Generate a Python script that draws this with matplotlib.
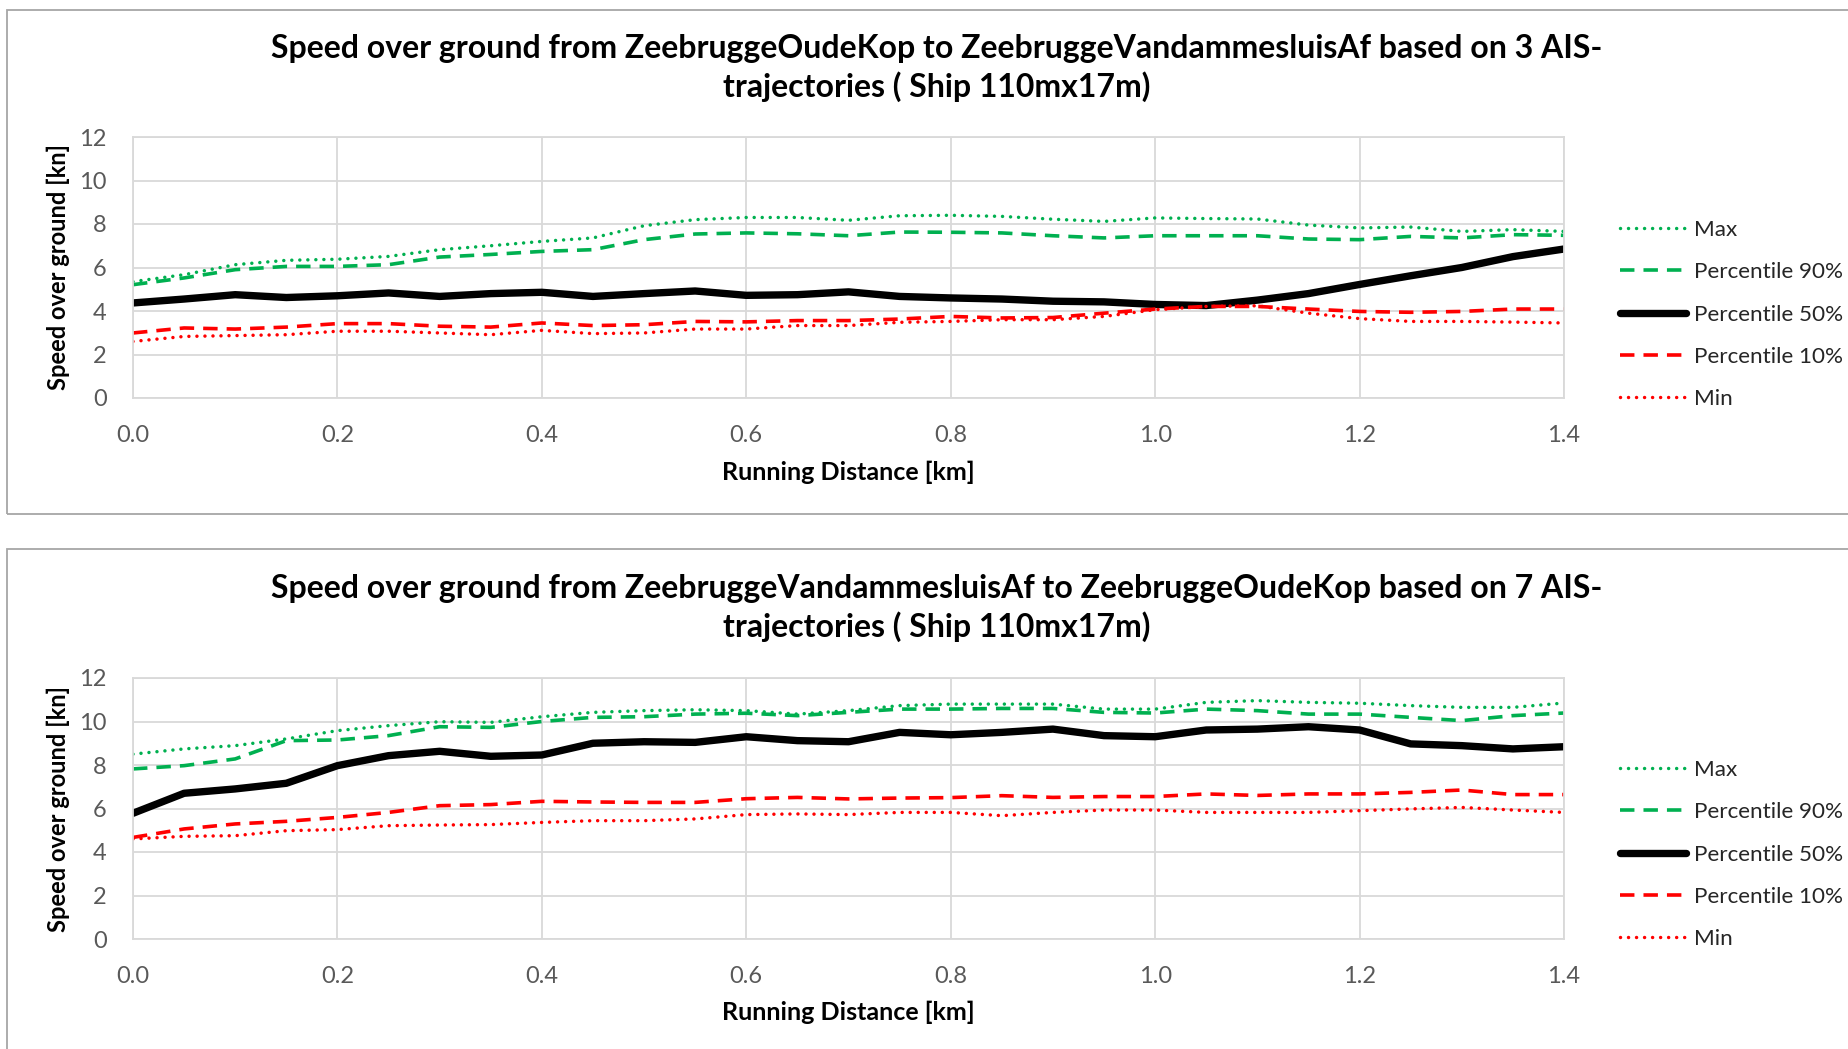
import matplotlib
matplotlib.use("Agg")
import matplotlib.pyplot as plt
from matplotlib.patches import Rectangle

# running distance [km], shared by both charts
distance_km = [0.0, 0.05, 0.1, 0.15, 0.2, 0.25, 0.3, 0.35, 0.4, 0.45,
               0.5, 0.55, 0.6, 0.65, 0.7, 0.75, 0.8, 0.85, 0.9, 0.95,
               1.0, 1.05, 1.1, 1.15, 1.2, 1.25, 1.3, 1.35, 1.4]

# --- chart 1: ZeebruggeOudeKop -> ZeebruggeVandammesluisAf (3 trajectories)
up_max = [5.35, 5.67, 6.13, 6.33, 6.38, 6.51, 6.82, 7.0, 7.2, 7.36,
          7.92, 8.2, 8.3, 8.3, 8.17, 8.38, 8.4, 8.35, 8.22, 8.12,
          8.28, 8.25, 8.23, 7.95, 7.82, 7.86, 7.66, 7.74, 7.66]
up_p90 = [5.21, 5.52, 5.9, 6.05, 6.05, 6.13, 6.48, 6.6, 6.74, 6.82,
          7.28, 7.54, 7.59, 7.55, 7.46, 7.63, 7.62, 7.59, 7.46, 7.36,
          7.46, 7.46, 7.46, 7.31, 7.28, 7.43, 7.36, 7.51, 7.48]
up_p50 = [4.37, 4.55, 4.75, 4.62, 4.7, 4.83, 4.67, 4.8, 4.86, 4.67,
          4.8, 4.92, 4.72, 4.75, 4.88, 4.67, 4.6, 4.55, 4.45, 4.42,
          4.3, 4.25, 4.5, 4.8, 5.22, 5.62, 6.0, 6.5, 6.85]
up_p10 = [2.99, 3.22, 3.17, 3.26, 3.42, 3.42, 3.3, 3.26, 3.45, 3.33,
          3.37, 3.52, 3.5, 3.56, 3.56, 3.63, 3.75, 3.68, 3.7, 3.9,
          4.09, 4.21, 4.21, 4.09, 3.98, 3.94, 3.98, 4.09, 4.09]
up_min = [2.6, 2.83, 2.87, 2.91, 3.07, 3.07, 2.99, 2.91, 3.11, 2.96,
          2.99, 3.17, 3.17, 3.33, 3.33, 3.48, 3.52, 3.6, 3.6, 3.75,
          4.06, 4.21, 4.24, 3.9, 3.65, 3.52, 3.52, 3.49, 3.45]

# --- chart 2: ZeebruggeVandammesluisAf -> ZeebruggeOudeKop (7 trajectories)
down_max = [8.5, 8.74, 8.89, 9.2, 9.58, 9.81, 9.99, 9.96, 10.22, 10.42,
            10.5, 10.54, 10.5, 10.34, 10.5, 10.73, 10.8, 10.8, 10.8, 10.57,
            10.57, 10.88, 10.96, 10.88, 10.84, 10.73, 10.65, 10.65, 10.85]
down_p90 = [7.82, 7.97, 8.28, 9.12, 9.15, 9.35, 9.76, 9.73, 10.0, 10.19,
            10.22, 10.34, 10.38, 10.27, 10.42, 10.57, 10.57, 10.6, 10.6, 10.42,
            10.39, 10.57, 10.5, 10.34, 10.34, 10.19, 10.04, 10.27, 10.39]
down_p50 = [5.78, 6.7, 6.9, 7.16, 7.97, 8.43, 8.63, 8.4, 8.46, 9.0,
            9.07, 9.04, 9.3, 9.12, 9.07, 9.5, 9.39, 9.5, 9.65, 9.35,
            9.3, 9.61, 9.65, 9.76, 9.61, 8.97, 8.89, 8.74, 8.84]
down_p10 = [4.67, 5.06, 5.29, 5.41, 5.59, 5.82, 6.13, 6.18, 6.33, 6.3,
            6.28, 6.28, 6.45, 6.51, 6.44, 6.48, 6.5, 6.59, 6.51, 6.55,
            6.55, 6.67, 6.6, 6.67, 6.67, 6.74, 6.85, 6.64, 6.64]
down_min = [4.6, 4.72, 4.75, 4.98, 5.03, 5.21, 5.24, 5.26, 5.36, 5.44,
            5.44, 5.52, 5.72, 5.75, 5.72, 5.82, 5.82, 5.67, 5.82, 5.93,
            5.93, 5.82, 5.82, 5.82, 5.9, 5.98, 6.05, 5.93, 5.82]

series_labels = ["Max", "Percentile 90%", "Percentile 50%", "Percentile 10%", "Min"]

titles = [
    "Speed over ground from ZeebruggeOudeKop to ZeebruggeVandammesluisAf based on 3 AIS-\ntrajectories ( Ship 110mx17m)",
    "Speed over ground from ZeebruggeVandammesluisAf to ZeebruggeOudeKop based on 7 AIS-\ntrajectories ( Ship 110mx17m)",
]

GREEN = "#00B050"
RED = "#FF0000"
DOT = (0, (0.01, 2.3))
DASH = (0, (4.0, 2.5))
styles = [
    dict(color=GREEN, lw=2.5, ls=DOT, dash_capstyle="round"),
    dict(color=GREEN, lw=2.6, ls=DASH, dash_capstyle="butt"),
    dict(color="black", lw=5.3, ls="-", solid_capstyle="round"),
    dict(color=RED, lw=2.6, ls=DASH, dash_capstyle="butt"),
    dict(color=RED, lw=2.5, ls=DOT, dash_capstyle="round"),
]

plt.rcParams['font.family'] = ['Lato', 'DejaVu Sans']

W, H = 1849, 1049
fig = plt.figure(figsize=(W / 100, H / 100), dpi=100)

def fx(px):
    return px / W

def fy(py):
    return 1 - py / H

# pixel layout of each panel (top-left origin)
panels = [
    dict(data=[up_max, up_p90, up_p50, up_p10, up_min], box=(7, 10, 1880, 514),
         plot=(133, 137, 1564, 398), title_y=68, xlabel_y=472, legend_top=220),
    dict(data=[down_max, down_p90, down_p50, down_p10, down_min], box=(7, 549, 1880, 1080),
         plot=(133, 678, 1564, 939), title_y=608, xlabel_y=1012, legend_top=760),
]

for title, p in zip(titles, panels):
    bx0, by0, bx1, by1 = p["box"]
    fig.patches.append(Rectangle((fx(bx0), fy(by1)), fx(bx1 - bx0), (by1 - by0) / H,
                                 transform=fig.transFigure, fill=False,
                                 edgecolor="#a6a6a6", lw=1.3))

    x0, y0, x1, y1 = p["plot"]
    ax = fig.add_axes([fx(x0), fy(y1), fx(x1 - x0), (y1 - y0) / H])
    for vals, lab, st in zip(p["data"], series_labels, styles):
        ax.plot(distance_km, vals, label=lab, **st)

    ax.set_xlim(0, 1.4)
    ax.set_ylim(0, 12)
    ax.set_xticks([0.0, 0.2, 0.4, 0.6, 0.8, 1.0, 1.2, 1.4])
    ax.set_yticks([0, 2, 4, 6, 8, 10, 12])
    ax.xaxis.set_major_formatter(matplotlib.ticker.FormatStrFormatter("%.1f"))
    ax.grid(True, color="#d9d9d9", lw=1.3)
    ax.set_axisbelow(True)
    for s in ax.spines.values():
        s.set_color("#d9d9d9")
        s.set_linewidth(1.3)
    ax.tick_params(length=0, labelsize=17, labelcolor="#595959")
    ax.tick_params(axis="x", pad=19.5)
    ax.tick_params(axis="y", pad=19)

    fig.text(fx(937), fy(p["title_y"]), title, ha="center", va="center",
             fontsize=23, fontweight="bold", linespacing=1.32)
    fig.text(fx((x0 + x1) / 2), fy(p["xlabel_y"]), "Running Distance [km]",
             ha="center", va="center", fontsize=18, fontweight="bold")
    fig.text(fx(58), fy((y0 + y1) / 2), "Speed over ground [kn]", rotation=90,
             ha="center", va="center", fontsize=17, fontweight="bold")

    ax.legend(loc="upper left", bbox_to_anchor=(fx(1620), fy(p["legend_top"])),
              bbox_transform=fig.transFigure, frameon=False, fontsize=16.2,
              handlelength=2.95, handletextpad=0.35, labelspacing=0.99,
              borderpad=0, borderaxespad=0, labelcolor="#262626")

fig.savefig("out.png", dpi=100)
